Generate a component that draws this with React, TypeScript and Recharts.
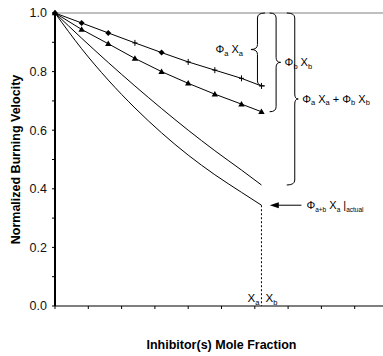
import React from 'react';
import { LineChart, Line, XAxis, YAxis, ReferenceLine, Label } from 'recharts';

// mole fraction of inhibitor(s)
const xMole = [0, 0.08, 0.16, 0.24, 0.32, 0.4, 0.48, 0.56, 0.62];
// normalized burning velocity, single agents and combinations
const phiA = [1.0, 0.966, 0.932, 0.898, 0.865, 0.833, 0.805, 0.777, 0.751];
const phiB = [1.0, 0.944, 0.895, 0.845, 0.8, 0.76, 0.723, 0.689, 0.663];
const phiSum = [1.0, 0.914, 0.831, 0.751, 0.674, 0.6, 0.53, 0.464, 0.413];
const phiActual = [1.0, 0.878, 0.771, 0.676, 0.591, 0.515, 0.448, 0.388, 0.344];

const xTicks = [0, 0.1, 0.2, 0.3, 0.4, 0.5, 0.6, 0.7, 0.8, 0.9];
const yTicks = [0, 0.1, 0.2, 0.3, 0.4, 0.5, 0.6, 0.7, 0.8, 0.9, 1.0];

const xEnd = 0.62;

const rows = xMole.map((x, i) => ({
  x,
  phiA: phiA[i],
  phiB: phiB[i],
  phiSum: phiSum[i],
  phiActual: phiActual[i],
}));

const FONT = '"Liberation Sans", Arial, Helvetica, sans-serif';
const diamondIdx = new Set([0, 1, 2, 4]);

// text with subscripts: [text, isSub]
function subText(items: Array<[string, boolean]>, size = 11, subSize = 7.5) {
  let shift = 0;
  return items.map(([t, isSub], i) => {
    const target = isSub ? 2.5 : 0;
    const dy = target - shift;
    shift = target;
    return (
      <tspan key={i} dy={dy} fontSize={isSub ? subSize : size}>
        {t}
      </tspan>
    );
  });
}

function DotA(props: any) {
  const { cx, cy, index } = props;
  if (cx == null || cy == null) return <g key={index} />;
  if (diamondIdx.has(index)) {
    const s = 3;
    return (
      <path
        key={index}
        d={`M${cx},${cy - s}L${cx + s},${cy}L${cx},${cy + s}L${cx - s},${cy}Z`}
        fill="#000"
      />
    );
  }
  return (
    <path
      key={index}
      d={`M${cx - 2.5},${cy}H${cx + 2.5}M${cx},${cy - 3}V${cy + 3}`}
      stroke="#000"
      strokeWidth={1}
      fill="none"
    />
  );
}

function DotB(props: any) {
  const { cx, cy, index } = props;
  if (cx == null || cy == null) return <g key={index} />;
  return (
    <path
      key={index}
      d={`M${cx},${cy - 3.2}L${cx + 3.2},${cy + 2.3}L${cx - 3.2},${cy + 2.3}Z`}
      fill="#000"
    />
  );
}

// curly brace drawn along a vertical segment; tip points left or right
function braceShape(dir: 'left' | 'right', label: React.ReactNode, endR = 7, tipR = 4.5) {
  return (props: any) => {
    const { x1, y1, y2 } = props;
    const x = x1;
    const top = Math.min(y1, y2);
    const bottom = Math.max(y1, y2);
    const mid = (top + bottom) / 2;
    const s = dir === 'right' ? 1 : -1;
    const d = [
      `M${x - s * endR},${top}`,
      `Q${x},${top} ${x},${top + 5}`,
      `L${x},${mid - 5}`,
      `Q${x},${mid} ${x + s * tipR},${mid}`,
      `Q${x},${mid} ${x},${mid + 5}`,
      `L${x},${bottom - 5}`,
      `Q${x},${bottom} ${x - s * endR},${bottom}`,
    ].join(' ');
    return (
      <g>
        <path d={d} stroke="#000" strokeWidth={1} fill="none" />
        <text
          x={dir === 'right' ? x + tipR + 4 : x - tipR - 8}
          y={mid + 4}
          textAnchor={dir === 'right' ? 'start' : 'end'}
          fontFamily={FONT}
          fill="#000"
        >
          {label}
        </text>
      </g>
    );
  };
}

function ArrowShape(props: any) {
  const { x1, y1, x2 } = props;
  const y = y1;
  return (
    <g>
      <line x1={x1} y1={y} x2={x2 + 7} y2={y} stroke="#000" strokeWidth={1} />
      <path d={`M${x2},${y}L${x2 + 9},${y - 3}L${x2 + 9},${y + 3}Z`} fill="#000" />
      <text x={x1 + 5} y={y + 4} fontFamily={FONT} fill="#000">
        {subText([
          ['Φ', false],
          ['a+b', true],
          ['\u00a0X', false],
          ['a', true],
          ['\u00a0|', false],
          ['actual', true],
        ], 11, 6.5)}
      </text>
    </g>
  );
}

function DropShape(props: any) {
  const { x1, y1, y2 } = props;
  const bottom = Math.max(y1, y2);
  return (
    <g>
      <line x1={x1} y1={y1} x2={x1} y2={y2} stroke="#000" strokeWidth={1} strokeDasharray="2 2" />
      <text x={x1 - 2} y={bottom - 4} textAnchor="end" fontFamily={FONT} fill="#000">
        {subText([['X', false], ['a', true]], 11.5, 7.5)}
      </text>
      <text x={x1 + 4} y={bottom - 4} textAnchor="start" fontFamily={FONT} fill="#000">
        {subText([['X', false], ['b', true]], 11.5, 7.5)}
      </text>
    </g>
  );
}

export default function App() {
  return (
    <div style={{ width: 383, height: 356, background: '#fff' }}>
      <style>{'body{margin:0}'}</style>
      <LineChart
        width={383}
        height={356}
        data={rows}
        margin={{ top: 13, right: 0, bottom: 0, left: 0 }}
      >
        <XAxis
          dataKey="x"
          type="number"
          domain={[0, 0.985]}
          ticks={xTicks}
          tickFormatter={() => ''}
          tickSize={3}
          height={50}
          axisLine={{ stroke: '#000', strokeWidth: 1.2 }}
          tickLine={{ stroke: '#000' }}
        >
          <Label
            content={({ viewBox }: any) => (
              <text
                x={viewBox.x + (viewBox.width * 0.5) / 0.985}
                y={viewBox.y + 43}
                textAnchor="middle"
                fontFamily={FONT}
                fontWeight="bold"
                fontSize={12.5}
                fill="#000"
              >
                Inhibitor(s) Mole Fraction
              </text>
            )}
          />
        </XAxis>
        <YAxis
          type="number"
          domain={[0, 1]}
          ticks={yTicks}
          width={55}
          tickSize={3}
          tickMargin={5}
          interval={0}
          tickFormatter={(v: number, i: number) => (i % 2 === 0 ? v.toFixed(1) : '')}
          tick={{ fill: '#111', fontSize: 12.5, fontFamily: FONT }}
          axisLine={{ stroke: '#000', strokeWidth: 2 }}
          tickLine={{ stroke: '#000' }}
        >
          <Label
            content={({ viewBox }: any) => {
              const cx = 16;
              const cy = viewBox.y + viewBox.height / 2;
              return (
                <text
                  x={cx}
                  y={cy}
                  transform={`rotate(-90 ${cx} ${cy})`}
                  textAnchor="middle"
                  dominantBaseline="central"
                  fontFamily={FONT}
                  fontWeight="bold"
                  fontSize={12.5}
                  fill="#000"
                >
                  Normalized Burning Velocity
                </text>
              );
            }}
          />
        </YAxis>

        <ReferenceLine y={1} stroke="#808080" strokeWidth={1} />

        <Line
          type="linear"
          dataKey="phiA"
          stroke="#000"
          strokeWidth={1}
          dot={DotA}
          activeDot={false}
          isAnimationActive={false}
        />
        <Line
          type="linear"
          dataKey="phiB"
          stroke="#000"
          strokeWidth={1}
          dot={DotB}
          activeDot={false}
          isAnimationActive={false}
        />
        <Line
          type="monotone"
          dataKey="phiSum"
          stroke="#000"
          strokeWidth={1}
          dot={false}
          activeDot={false}
          isAnimationActive={false}
        />
        <Line
          type="monotone"
          dataKey="phiActual"
          stroke="#000"
          strokeWidth={1}
          dot={false}
          activeDot={false}
          isAnimationActive={false}
        />

        <ReferenceLine
          segment={[{ x: 0.608, y: 1 }, { x: 0.608, y: phiA[phiA.length - 1] }]}
          shape={braceShape('left', subText([['Φ', false], ['a', true], ['\u00a0X', false], ['a', true]]), 7.5, 6.5)}
        />
        <ReferenceLine
          segment={[{ x: 0.664, y: 1 }, { x: 0.664, y: phiB[phiB.length - 1] }]}
          shape={braceShape('right', subText([['Φ', false], ['b', true], ['\u00a0X', false], ['b', true]]), 6.5, 4.5)}
        />
        <ReferenceLine
          segment={[{ x: 0.72, y: 1 }, { x: 0.72, y: phiSum[phiSum.length - 1] }]}
          shape={braceShape(
            'right',
            subText([
              ['Φ', false],
              ['a', true],
              ['\u00a0X', false],
              ['a', true],
              ['\u00a0+\u00a0Φ', false],
              ['b', true],
              ['\u00a0X', false],
              ['b', true],
            ]),
            8,
            3.5,
          )}
        />
        <ReferenceLine
          segment={[{ x: 0.74, y: phiActual[phiActual.length - 1] }, { x: 0.645, y: phiActual[phiActual.length - 1] }]}
          shape={ArrowShape}
        />
        <ReferenceLine
          segment={[{ x: xEnd, y: phiActual[phiActual.length - 1] }, { x: xEnd, y: 0 }]}
          shape={DropShape}
        />
      </LineChart>
    </div>
  );
}
